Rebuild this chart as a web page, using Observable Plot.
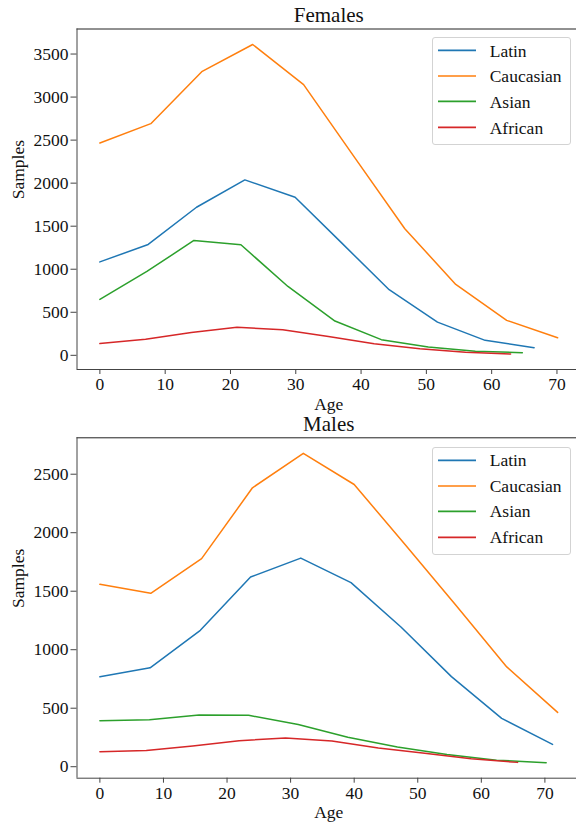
<!DOCTYPE html>
<html><head><meta charset="utf-8">
<script src="https://cdn.jsdelivr.net/npm/d3@7"></script>
<script src="https://cdn.jsdelivr.net/npm/@observablehq/plot@0.6"></script>
<style>
html,body{margin:0;padding:0;background:#fff;overflow:hidden;width:576px;height:823px;}
#root{position:relative;width:576px;height:823px;overflow:hidden;}
.panel{position:absolute;left:0;width:580px;}
.legend{position:absolute;box-sizing:border-box;background:rgba(255,255,255,0.8);border:1px solid #d3d3d3;border-radius:3px;font-family:"Liberation Serif",serif;font-size:17.5px;color:#111;}
.legend svg{position:absolute;left:0;top:0;}
.legend .tx{position:absolute;left:57px;height:20px;line-height:20px;white-space:nowrap;}
</style></head><body><div id="root"></div>
<script>
// ---- data ----
const groups = ["Latin", "Caucasian", "Asian", "African"];
const colors = ["#1f77b4", "#ff7f0e", "#2ca02c", "#d62728"];

// Females
const fLatinAge = [0, 7.4, 14.8, 22.2, 29.9, 37.1, 44.3, 51.7, 59.0, 66.5];
const fLatinVal = [1085, 1288, 1720, 2038, 1836, 1300, 762, 386, 174, 89];
const fCaucAge = [0, 7.8, 15.6, 23.4, 31.2, 39.0, 46.7, 54.5, 62.3, 70.1];
const fCaucVal = [2467, 2691, 3295, 3611, 3144, 2300, 1470, 824, 406, 205];
const fAsianAge = [0, 7.2, 14.4, 21.6, 28.8, 36.0, 43.1, 50.3, 57.5, 64.7];
const fAsianVal = [650, 974, 1334, 1284, 800, 398, 182, 96, 46, 31];
const fAfricanAge = [0, 7.0, 14.0, 21.0, 28.0, 35.0, 42.0, 49.0, 56.0, 62.9];
const fAfricanVal = [136, 186, 265, 325, 298, 218, 135, 75, 36, 15];

// Males
const mLatinAge = [0, 7.9, 15.8, 23.7, 31.6, 39.5, 47.4, 55.3, 63.2, 71.2];
const mLatinVal = [768, 845, 1166, 1621, 1783, 1573, 1192, 770, 413, 191];
const mCaucAge = [0, 8, 16, 24, 32, 40, 48, 56, 64, 72];
const mCaucVal = [1559, 1482, 1778, 2384, 2679, 2412, 1900, 1380, 853, 464];
const mAsianAge = [0, 7.8, 15.6, 23.4, 31.2, 39.0, 46.8, 54.6, 62.4, 70.2];
const mAsianVal = [392, 401, 441, 439, 360, 251, 168, 104, 56, 34];
const mAfricanAge = [0, 7.3, 14.6, 21.9, 29.2, 36.5, 43.8, 51.1, 58.4, 65.7];
const mAfricanVal = [128, 138, 177, 222, 245, 220, 160, 114, 68, 37];

const xTicks = [0, 10, 20, 30, 40, 50, 60, 70];
const fYTicks = [0, 500, 1000, 1500, 2000, 2500, 3000, 3500];
const mYTicks = [0, 500, 1000, 1500, 2000, 2500];

const FONT = '"Liberation Serif", serif';

function rows(series) {
  const out = [];
  series.forEach(([g, ages, vals]) => ages.forEach((a, i) => out.push({group: g, age: a, value: vals[i]})));
  return out;
}
const femaleData = rows([["Latin", fLatinAge, fLatinVal], ["Caucasian", fCaucAge, fCaucVal], ["Asian", fAsianAge, fAsianVal], ["African", fAfricanAge, fAfricanVal]]);
const maleData = rows([["Latin", mLatinAge, mLatinVal], ["Caucasian", mCaucAge, mCaucVal], ["Asian", mAsianAge, mAsianVal], ["African", mAfricanAge, mAfricanVal]]);

function pad(lo, hi, f) { const s = hi - lo; return [lo - s * f, hi + s * f]; }

function panel({title, data, yTicks, height, mt, mb, titleDy, ageDy}) {
  const xd = pad(0, d3.max(data, d => d.age), 0.05);
  const yd = pad(d3.min(data, d => d.value), d3.max(data, d => d.value), 0.05);
  return Plot.plot({
    width: 580, height,
    marginLeft: 76.5, marginRight: 0, marginTop: mt, marginBottom: mb,
    style: {fontFamily: FONT, fontSize: "17.5px", color: "#111", background: "transparent", maxWidth: "none", overflow: "visible"},
    x: {domain: xd, label: null},
    y: {domain: yd, label: null},
    color: {domain: groups, range: colors},
    marks: [
      Plot.line(data, {x: "age", y: "value", z: "group", stroke: "group", strokeWidth: 1.5}),
      Plot.ruleY([yd[1]], {stroke: "#222", strokeWidth: 1}),
      Plot.ruleX([xd[0]], {stroke: "#444", strokeWidth: 1}),
      Plot.ruleY([yd[0]], {stroke: "#444", strokeWidth: 1}),
      Plot.axisX(xTicks, {tickSize: 5, tickPadding: 3, stroke: "#444", label: null, tickFormat: d3.format("d"), fill: "#111", fontFamily: FONT, fontSize: 17.5, fontVariant: "normal"}),
      Plot.axisY(yTicks, {tickSize: 6, tickPadding: 2.5, stroke: "#444", label: null, tickFormat: d3.format("d"), fill: "#111", fontFamily: FONT, fontSize: 17.5, fontVariant: "normal"}),
      Plot.text([title], {frameAnchor: "top", lineAnchor: "bottom", dy: titleDy, fontSize: 21, fill: "#111", fontFamily: FONT}),
      Plot.text(["Age"], {frameAnchor: "bottom", lineAnchor: "bottom", dy: ageDy, fill: "#111", fontFamily: FONT, fontSize: 17.5}),
      Plot.text(["Samples"], {frameAnchor: "left", lineAnchor: "bottom", rotate: -90, dx: -53.5, fill: "#111", fontFamily: FONT, fontSize: 17.5})
    ]
  });
}

function legend(left, top) {
  const box = document.createElement("div");
  box.className = "legend";
  box.style.left = left + "px";
  box.style.top = top + "px";
  box.style.width = "139px";
  box.style.height = "108px";
  const rowY = [13.4, 39, 64.4, 90.4];
  const svg = d3.create("svg").attr("width", 60).attr("height", 106);
  svg.selectAll("line").data(groups).join("line")
    .attr("x1", 5).attr("x2", 43)
    .attr("y1", (d, i) => rowY[i] - 1).attr("y2", (d, i) => rowY[i] - 1)
    .attr("stroke", (d, i) => colors[i]).attr("stroke-width", 1.6);
  box.appendChild(svg.node());
  groups.forEach((g, i) => {
    const tx = document.createElement("div");
    tx.className = "tx";
    tx.style.top = (rowY[i] - 10 - 1) + "px";
    tx.textContent = g;
    box.appendChild(tx);
  });
  return box;
}

const root = document.getElementById("root");
const p1 = document.createElement("div");
p1.className = "panel"; p1.style.top = "0px";
p1.appendChild(panel({title: "Females", data: femaleData, yTicks: fYTicks, height: 418, mt: 28.5, mb: 49, titleDy: -6.8, ageDy: 40}));
root.appendChild(p1);
const p2 = document.createElement("div");
p2.className = "panel"; p2.style.top = "418px";
p2.appendChild(panel({title: "Males", data: maleData, yTicks: mYTicks, height: 405, mt: 19.3, mb: 45.3, titleDy: -6.6, ageDy: 39.3}));
root.appendChild(p2);
root.appendChild(legend(431.7, 37.3));
root.appendChild(legend(431.7, 446.7));
</script>
</body></html>
